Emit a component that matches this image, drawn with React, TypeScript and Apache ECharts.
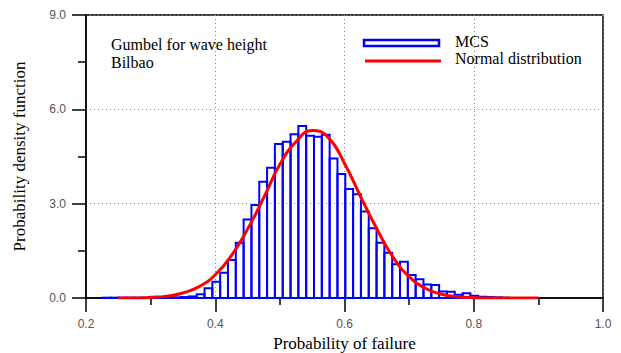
import React, { useEffect, useRef } from "react";
import * as echarts from "echarts";

// Histogram (MCS) bin edges and densities
const binEdges = [
  0.2261, 0.2382, 0.2503, 0.2624, 0.2745, 0.2866, 0.2987, 0.3108, 0.3229, 0.335,
  0.3471, 0.3592, 0.3713, 0.3834, 0.3955, 0.4076, 0.4197, 0.4318, 0.4439, 0.456,
  0.4681, 0.4802, 0.4923, 0.5044, 0.5165, 0.5286, 0.5407, 0.5528, 0.5649, 0.577,
  0.5891, 0.6012, 0.6133, 0.6254, 0.6375, 0.6496, 0.6617, 0.6738, 0.6859, 0.698,
  0.7101, 0.7222, 0.7343, 0.7464, 0.7585, 0.7706, 0.7827, 0.7948, 0.8069, 0.819,
  0.8311, 0.8432, 0.8553,
];
const mcsDensity = [
  0.01, 0.01, 0.01, 0.01, 0.01, 0.01, 0.01, 0.02, 0.02, 0.02, 0.03, 0.05, 0.12, 0.31,
  0.52, 0.8, 1.21, 1.76, 2.5, 2.96, 3.7, 4.14, 4.9, 4.97,
  5.21, 5.47, 5.16, 5.13, 5.19, 4.44, 3.94, 3.47, 3.3, 2.75,
  2.22, 1.76, 1.44, 1.07, 1.15, 0.73, 0.6, 0.43, 0.41, 0.21,
  0.2, 0.1, 0.15, 0.07, 0.04, 0.03, 0.02, 0.01,
];

// Normal distribution curve
const normalX = [
  0.25, 0.275, 0.3, 0.325, 0.35, 0.375, 0.4, 0.425, 0.45, 0.475, 0.5, 0.525, 0.55,
  0.575, 0.6, 0.625, 0.65, 0.675, 0.7, 0.725, 0.75, 0.775, 0.8, 0.825, 0.85, 0.875, 0.9,
];
const normalY = [
  0.0, 0.0, 0.02, 0.06, 0.16, 0.36, 0.74, 1.35, 2.19, 3.19, 4.25, 4.97, 5.33,
  5.1, 4.28, 3.22, 2.2, 1.3, 0.68, 0.31, 0.12, 0.04, 0.01, 0.0, 0.0, 0.0, 0.0,
];

const xTicks = { min: 0.2, max: 1.0, interval: 0.2 };
const yTicks = { min: 0, max: 9, interval: 3 };

const seriesNames = ["MCS", "Normal distribution"];
const annotation = ["Gumbel for wave height", "Bilbao"];
const xTitle = "Probability of failure";
const yTitle = "Probability density function";

const SERIF = "Liberation Serif";
const TICKFONT = "Liberation Sans";

export default function App() {
  const ref = useRef<HTMLDivElement>(null);

  useEffect(() => {
    if (!ref.current) return;
    const chart = echarts.init(ref.current, null, { renderer: "svg" });

    const histData = mcsDensity.map((h, i) => [binEdges[i], binEdges[i + 1], h]);
    const curveData = normalX.map((x, i) => [x, normalY[i]]);

    const axisCommon = {
      axisLine: { show: true, lineStyle: { color: "#000", width: 1.5 } },
      axisTick: { show: true, inside: false, length: 14, lineStyle: { color: "#000", width: 1.5 } },
      minorTick: { show: true, splitNumber: 2, length: 7, lineStyle: { color: "#000", width: 1.5 } },
      splitLine: { show: true, lineStyle: { color: "#8a8a8a", width: 1, type: [1, 3] } },
      axisLabel: { color: "#555", fontFamily: TICKFONT, fontSize: 12, margin: 20 },
      nameTextStyle: { color: "#000", fontFamily: SERIF, fontSize: 17 },
    };

    const txt = (text: string, left: number, top: number) => ({
      type: "text",
      left,
      top,
      z: 10,
      style: { text, fontFamily: SERIF, fontSize: 16, fill: "#000" },
    });

    chart.setOption({
      animation: false,
      backgroundColor: "#fff",
      grid: {
        left: 86,
        right: 18,
        top: 15,
        bottom: 55,
        containLabel: false,
        outerBoundsMode: "none",
        show: true,
        borderColor: "#000",
        borderWidth: 1.5,
        backgroundColor: "transparent",
      },
      xAxis: {
        type: "value",
        min: xTicks.min,
        max: xTicks.max,
        interval: xTicks.interval,
        name: xTitle,
        nameLocation: "middle",
        nameGap: 35,
        ...axisCommon,
        axisLabel: { ...axisCommon.axisLabel, formatter: (v: number) => v.toFixed(1) },
      },
      yAxis: {
        type: "value",
        min: yTicks.min,
        max: yTicks.max,
        interval: yTicks.interval,
        name: yTitle,
        nameLocation: "middle",
        nameGap: 58,
        ...axisCommon,
        minorTick: { ...axisCommon.minorTick, length: 8 },
        axisLabel: { ...axisCommon.axisLabel, formatter: (v: number) => v.toFixed(1) },
      },
      series: [
        {
          name: seriesNames[0],
          type: "custom",
          data: histData,
          encode: { x: [0, 1], y: 2 },
          renderItem: (params: any, api: any) => {
            const x0 = api.value(0);
            const x1 = api.value(1);
            const h = api.value(2);
            const p0 = api.coord([x0, h]);
            const p1 = api.coord([x1, 0]);
            return {
              type: "rect",
              shape: { x: p0[0], y: p0[1], width: p1[0] - p0[0], height: p1[1] - p0[1] },
              style: { fill: "none", stroke: "#0000ff", lineWidth: 2 },
            };
          },
          z: 2,
        },
        {
          name: seriesNames[1],
          type: "line",
          data: curveData,
          smooth: true,
          showSymbol: false,
          lineStyle: { color: "#ff0000", width: 3 },
          z: 3,
        },
      ],
      graphic: [
        txt(annotation[0], 111, 36),
        txt(annotation[1], 111, 54),
        {
          type: "rect",
          shape: { x: 364, y: 40, width: 75, height: 6 },
          style: { fill: "#fff", stroke: "#0000ff", lineWidth: 2.5 },
          z: 10,
        },
        {
          type: "line",
          shape: { x1: 365, y1: 61, x2: 441, y2: 61 },
          style: { stroke: "#ff0000", lineWidth: 3 },
          z: 10,
        },
        txt(seriesNames[0], 455, 33),
        txt(seriesNames[1], 455, 50),
      ],
    });

    return () => chart.dispose();
  }, []);

  return (
    <div
      ref={ref}
      style={{ position: "fixed", left: 0, top: 0, width: 621, height: 353, background: "#fff" }}
    />
  );
}
